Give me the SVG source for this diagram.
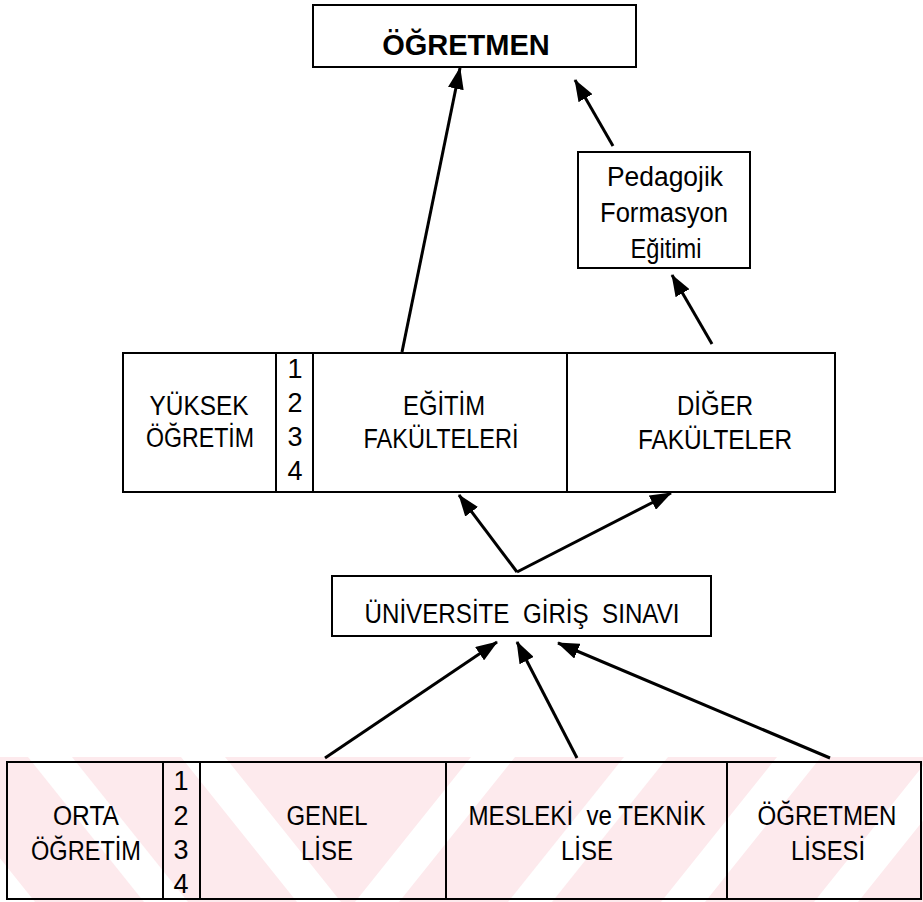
<svg xmlns="http://www.w3.org/2000/svg" width="923" height="902" viewBox="0 0 923 902">
<defs>
<style>
.box{fill:none;stroke:#000;stroke-width:2}
.t{font-family:"Liberation Sans",Arial,sans-serif;font-size:27px;fill:#000;text-anchor:middle}
.b{font-weight:bold;font-size:29px}
.c{fill:none;stroke:#000;stroke-width:3}
.wm{fill:#fdeaed}
.ws{fill:#fff}
</style>
<marker id="ah" viewBox="0 0 22 16" refX="21" refY="8" markerWidth="22" markerHeight="16" markerUnits="userSpaceOnUse" orient="auto">
<path d="M0,0 L22,8 L0,16 z" fill="#000"/>
</marker>
<clipPath id="cl"><rect x="0" y="757" width="348" height="145"/></clipPath>
<clipPath id="cr"><rect x="348" y="757" width="575" height="145"/></clipPath>
</defs>
<rect width="923" height="902" fill="#fff"/>
<g id="watermark">
<rect class="wm" x="0" y="757" width="923" height="145"/>
<g clip-path="url(#cr)">
<polygon class="ws" points="355,902 399,902 515,757 471,757"/>
<polygon class="ws" points="508,902 552,902 668,757 624,757"/>
<polygon class="ws" points="661,902 705,902 821,757 777,757"/>
<polygon class="ws" points="814,902 858,902 974,757 930,757"/>
</g>
<g clip-path="url(#cl)">
<polygon class="ws" points="341,902 297,902 181,757 225,757"/>
<polygon class="ws" points="188,902 144,902 28,757 72,757"/>
<polygon class="ws" points="35,902 -9,902 -125,757 -81,757"/>
</g>
</g>
<g id="ogretmen">
<rect class="box" x="313" y="5" width="323" height="62"/>
<text class="t b" x="466" y="55">ÖĞRETMEN</text>
</g>
<g id="pedagojik">
<rect class="box" x="578" y="152" width="172" height="116"/>
<text class="t" x="665" y="186" textLength="116" lengthAdjust="spacingAndGlyphs">Pedagojik</text>
<text class="t" x="664" y="222" textLength="128" lengthAdjust="spacingAndGlyphs">Formasyon</text>
<text class="t" x="666" y="258" textLength="71" lengthAdjust="spacingAndGlyphs">Eğitimi</text>
</g>
<g id="yuksek">
<rect class="box" x="123" y="353" width="712" height="139"/>
<line class="box" x1="276" y1="353" x2="276" y2="492"/>
<line class="box" x1="313" y1="353" x2="313" y2="492"/>
<line class="box" x1="567" y1="353" x2="567" y2="492"/>
<text class="t" x="199" y="415" textLength="99" lengthAdjust="spacingAndGlyphs">YÜKSEK</text>
<text class="t" x="200" y="447" textLength="108" lengthAdjust="spacingAndGlyphs">ÖĞRETİM</text>
<text class="t" x="295" y="378">1</text>
<text class="t" x="295" y="412">2</text>
<text class="t" x="295" y="446">3</text>
<text class="t" x="295" y="480">4</text>
</g>
<g id="egitim">
<text class="t" x="444" y="415" textLength="82" lengthAdjust="spacingAndGlyphs">EĞİTİM</text>
<text class="t" x="441" y="448" textLength="155" lengthAdjust="spacingAndGlyphs">FAKÜLTELERİ</text>
</g>
<g id="diger">
<text class="t" x="715" y="415" textLength="76" lengthAdjust="spacingAndGlyphs">DİĞER</text>
<text class="t" x="715" y="449" textLength="154" lengthAdjust="spacingAndGlyphs">FAKÜLTELER</text>
</g>
<g id="sinav">
<rect class="box" x="332" y="576" width="379" height="60"/>
<text class="t" x="522" y="623" xml:space="preserve" textLength="315" lengthAdjust="spacingAndGlyphs">ÜNİVERSİTE  GİRİŞ  SINAVI</text>
</g>
<g id="orta">
<rect class="box" x="7" y="762" width="914" height="137"/>
<line class="box" x1="163" y1="762" x2="163" y2="899"/>
<line class="box" x1="200" y1="762" x2="200" y2="899"/>
<line class="box" x1="446" y1="762" x2="446" y2="899"/>
<line class="box" x1="727" y1="762" x2="727" y2="899"/>
<text class="t" x="86" y="825" textLength="66" lengthAdjust="spacingAndGlyphs">ORTA</text>
<text class="t" x="86" y="860" textLength="110" lengthAdjust="spacingAndGlyphs">ÖĞRETİM</text>
<text class="t" x="181" y="790">1</text>
<text class="t" x="181" y="825">2</text>
<text class="t" x="181" y="859">3</text>
<text class="t" x="181" y="893">4</text>
</g>
<g id="genel">
<text class="t" x="327" y="825" textLength="81" lengthAdjust="spacingAndGlyphs">GENEL</text>
<text class="t" x="327" y="860" textLength="52" lengthAdjust="spacingAndGlyphs">LİSE</text>
</g>
<g id="meslek">
<text class="t" x="587" y="825" xml:space="preserve" textLength="237" lengthAdjust="spacingAndGlyphs">MESLEKİ  ve TEKNİK</text>
<text class="t" x="587" y="860" textLength="52" lengthAdjust="spacingAndGlyphs">LİSE</text>
</g>
<g id="ogretmenlisesi">
<text class="t" x="827" y="825" textLength="139" lengthAdjust="spacingAndGlyphs">ÖĞRETMEN</text>
<text class="t" x="828" y="860" textLength="74" lengthAdjust="spacingAndGlyphs">LİSESİ</text>
</g>
<g id="connectors">
<line class="c" x1="402" y1="352" x2="460" y2="68" marker-end="url(#ah)"/>
<line class="c" x1="613" y1="146" x2="575" y2="80" marker-end="url(#ah)"/>
<line class="c" x1="712" y1="344" x2="672" y2="275" marker-end="url(#ah)"/>
<line class="c" x1="517" y1="572" x2="459" y2="495" marker-end="url(#ah)"/>
<line class="c" x1="517" y1="572" x2="671" y2="493" marker-end="url(#ah)"/>
<line class="c" x1="325" y1="758" x2="497" y2="642" marker-end="url(#ah)"/>
<line class="c" x1="577" y1="758" x2="517" y2="642" marker-end="url(#ah)"/>
<line class="c" x1="830" y1="758" x2="558" y2="643" marker-end="url(#ah)"/>
</g>
</svg>
